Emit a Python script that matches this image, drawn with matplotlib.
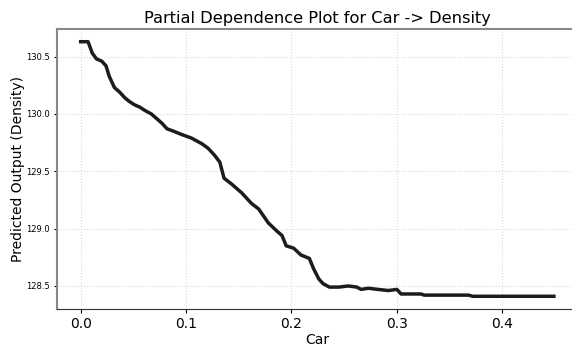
import matplotlib
matplotlib.use('Agg')
import matplotlib.pyplot as plt

# partial dependence values
car = [0.000, 0.007, 0.011, 0.015, 0.020, 0.024, 0.027, 0.032, 0.037, 0.042,
       0.046, 0.051, 0.056, 0.061, 0.067, 0.072, 0.077, 0.082, 0.088, 0.096,
       0.105, 0.115, 0.121, 0.127, 0.132, 0.136, 0.143, 0.153, 0.162, 0.169,
       0.178, 0.186, 0.191, 0.195, 0.202, 0.209, 0.217, 0.221, 0.226, 0.230,
       0.236, 0.245, 0.254, 0.262, 0.266, 0.273, 0.282, 0.292, 0.300, 0.304,
       0.323, 0.326, 0.336, 0.368, 0.372, 0.449]
density = [130.63, 130.63, 130.53, 130.48, 130.46, 130.42, 130.33, 130.23, 130.19, 130.14,
           130.11, 130.08, 130.06, 130.03, 130.00, 129.96, 129.92, 129.87, 129.85, 129.82,
           129.79, 129.74, 129.70, 129.64, 129.58, 129.44, 129.39, 129.31, 129.22, 129.17,
           129.05, 128.98, 128.94, 128.85, 128.83, 128.77, 128.74, 128.65, 128.56, 128.52,
           128.49, 128.49, 128.50, 128.49, 128.47, 128.48, 128.47, 128.46, 128.47, 128.43,
           128.43, 128.42, 128.42, 128.42, 128.41, 128.41]

fig = plt.figure(figsize=(5.72, 3.47), dpi=100)
ax = fig.add_axes([0.0997, 0.1095, 0.91, 0.807])

ax.plot(car, density, color='#1c1c1c', linewidth=2.5)
ax.grid(True, linestyle=':', color='#d9d9d9', linewidth=0.8)

ax.set_title('Partial Dependence Plot for Car -> Density', fontsize=11.7, pad=4)
ax.set_xlabel('Car', fontsize=10, labelpad=1)
ax.set_ylabel('Predicted Output (Density)', fontsize=10, labelpad=1)
ax.set_xticks([0.0, 0.1, 0.2, 0.3, 0.4])
ax.tick_params(axis='x', labelsize=10, length=3, pad=3)
ax.tick_params(axis='y', labelsize=6, length=2, pad=3)

for side in ['left', 'top']:
    ax.spines[side].set_color('#888888')
    ax.spines[side].set_linewidth(1.5)
ax.spines['bottom'].set_color('#333333')
ax.spines['right'].set_visible(False)

fig.savefig('out.png', dpi=100)
